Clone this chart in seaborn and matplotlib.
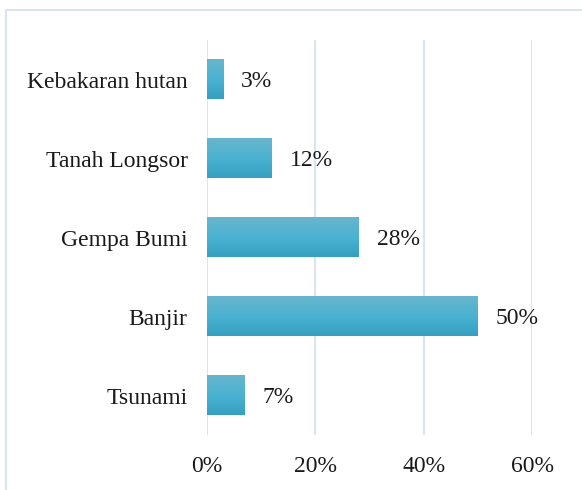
import matplotlib.pyplot as plt
import seaborn as sns
import numpy as np
import pandas as pd
from matplotlib.colors import LinearSegmentedColormap
from matplotlib.patches import Rectangle

categories = ["Kebakaran hutan", "Tanah Longsor", "Gempa Bumi", "Banjir", "Tsunami"]
values = [3, 12, 28, 50, 7]
ticks = [0, 20, 40, 60]
tick_labels = ["0%", "20%", "40%", "60%"]


def main():
    sns.set_theme(style="white")
    plt.rcParams["font.family"] = ["Liberation Serif", "DejaVu Serif"]

    df = pd.DataFrame({"kategori": categories, "persen": values})

    fig = plt.figure(figsize=(5.82, 4.9), dpi=100)
    # outer frame of the chart area
    fig.add_artist(Rectangle((5.5 / 582, -0.05), 1.1, 1 - 10 / 490 + 0.05,
                             transform=fig.transFigure, fill=False,
                             edgecolor="#d9e4f2", linewidth=1.5))
    ax = fig.add_axes([207 / 582, 1 - 435 / 490, (532 - 207) / 582, (435 - 40) / 490])

    sns.barplot(data=df, y="kategori", x="persen", orient="h", width=0.5,
                color="#4bb0d0", ax=ax, zorder=2)

    grad = LinearSegmentedColormap.from_list("bar", ["#68b6cc", "#4ab2d2", "#36a0c0"])
    for p in ax.patches:
        x0, y0 = p.get_x(), p.get_y()
        w, h = p.get_width(), p.get_height()
        p.set_visible(False)
        # light at the top, darker at the bottom
        ax.imshow(np.linspace(1, 0, 64).reshape(-1, 1), cmap=grad, aspect="auto",
                  extent=(x0, x0 + w, y0, y0 + h), zorder=3, interpolation="bilinear")
        ax.text(x0 + w + 3.3, y0 + h / 2 + 0.03, f"{int(w)}%", va="center", ha="left",
                fontsize=17, color="#1a1a1a")

    ax.set_xlim(0, 60)
    ax.set_ylim(4.5, -0.5)
    ax.set_xticks(ticks)
    ax.set_xticklabels(tick_labels, fontsize=17, color="#1a1a1a")
    ax.tick_params(axis="y", labelsize=17, labelcolor="#1a1a1a", length=0, pad=14)
    ax.tick_params(axis="x", length=0, pad=15)
    ax.grid(axis="x", color="#d9e4f2", linewidth=1.5, zorder=0)
    ax.set_axisbelow(True)
    for s in ax.spines.values():
        s.set_visible(False)
    ax.set_xlabel("")
    ax.set_ylabel("")

    fig.savefig("out.png", dpi=100)


if __name__ == "__main__":
    main()
